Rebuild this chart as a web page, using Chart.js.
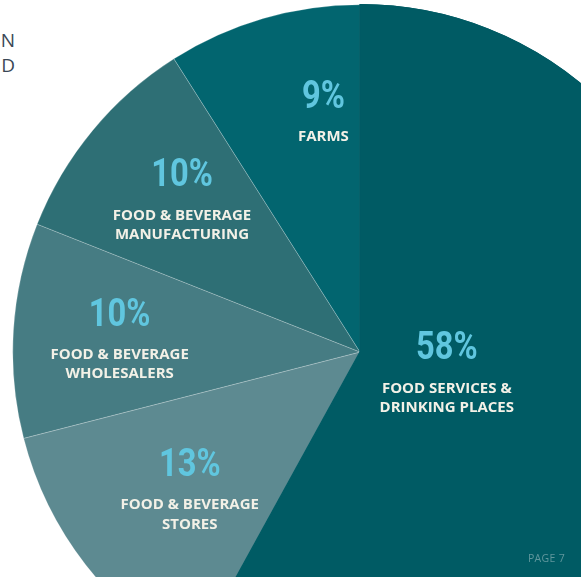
<!DOCTYPE html>
<html>
<head>
<meta charset="utf-8">
<script src="https://cdn.jsdelivr.net/npm/chart.js@4"></script>
<style>
    html, body { margin: 0; padding: 0; background: #fff; }
    body { width: 581px; height: 577px; overflow: hidden; position: relative; font-family: 'Open Sans', sans-serif; }
    #pie-wrap { position: absolute; left: 12px; top: 4px; width: 696px; height: 696px; }
    .edge-text { position: absolute; left: -100px; width: 115px; text-align: right; color: #3a4756; font-size: 19px; line-height: 25px; top: 28px; }
    .page-no { position: absolute; left: 528px; top: 551px; color: #5f979d; font-size: 10.5px; letter-spacing: 0.3px; }
</style>
</head>
<body>
<div class="edge-text">N<br>D</div>
<div id="pie-wrap"><canvas id="chart-share" width="696" height="696"></canvas></div>
<div class="page-no">PAGE 7</div>
<script>
// Share of food system jobs by sector, clockwise from 12 o'clock
const categories = [
    'Food Services & Drinking Places',
    'Food & Beverage Stores',
    'Food & Beverage Wholesalers',
    'Food & Beverage Manufacturing',
    'Farms'
];
const shares = [58, 13, 10, 10, 9];
const labelLines = [
    ['FOOD SERVICES &', 'DRINKING PLACES'],
    ['FOOD & BEVERAGE', 'STORES'],
    ['FOOD & BEVERAGE', 'WHOLESALERS'],
    ['FOOD & BEVERAGE', 'MANUFACTURING'],
    ['FARMS']
];

const sliceColors = ['#005b64', '#5d8a91', '#467c83', '#2e6f75', '#02656f'];
// the big slice keeps no light seam against its neighbours
const sliceBorders = ['#005b64', 'rgba(255,255,255,0.22)', 'rgba(255,255,255,0.22)', 'rgba(255,255,255,0.22)', 'rgba(255,255,255,0.22)'];
const sliceBorderWidths = [1.5, 1, 1, 1, 1];

// where each label sits: fraction of the radius, and a nudge off the slice's mid-angle
const labelRadius = [0.25, 0.59, 0.70, 0.72, 0.74];
const labelTurn = [-16, 4, 5, 5, 8];

const sliceLabels = {
    id: 'sliceLabels',
    afterDatasetsDraw(chart) {
        const { ctx } = chart;
        const meta = chart.getDatasetMeta(0);
        // paint the big slice again on top so its edge hides the neighbours' seams
        meta.data[0].draw(ctx);

        meta.data.forEach((arc, i) => {
            const { x, y, startAngle, endAngle, outerRadius } = arc.getProps(['x', 'y', 'startAngle', 'endAngle', 'outerRadius'], true);
            const mid = (startAngle + endAngle) / 2 + labelTurn[i] * Math.PI / 180;
            const px = x + Math.cos(mid) * outerRadius * labelRadius[i];
            const py = y + Math.sin(mid) * outerRadius * labelRadius[i];

            ctx.save();
            // condensed percentage figure
            ctx.translate(px, py);
            ctx.scale(0.86, 1.04);
            ctx.font = "bold 38px Roboto, 'Liberation Sans', sans-serif";
            ctx.fillStyle = '#60c6df';
            ctx.textAlign = 'center';
            ctx.textBaseline = 'middle';
            ctx.fillText(shares[i] + '%', 0, 0);
            ctx.restore();

            ctx.save();
            ctx.font = "bold 15px 'Open Sans', sans-serif";
            ctx.fillStyle = '#f3f1e7';
            ctx.textAlign = 'center';
            ctx.textBaseline = 'middle';
            labelLines[i].forEach((line, j) => {
                ctx.fillText(line, px, py + 39 + j * 19.5);
            });
            ctx.restore();
        });
    }
};

new Chart(document.getElementById('chart-share'), {
    type: 'pie',
    data: {
        labels: categories,
        datasets: [{
            data: shares,
            backgroundColor: sliceColors,
            borderColor: sliceBorders,
            borderWidth: sliceBorderWidths
        }]
    },
    options: {
        responsive: false,
        animation: false,
        layout: { padding: 0 },
        plugins: {
            legend: { display: false },
            tooltip: { enabled: false }
        }
    },
    plugins: [sliceLabels]
});
</script>
</body>
</html>
